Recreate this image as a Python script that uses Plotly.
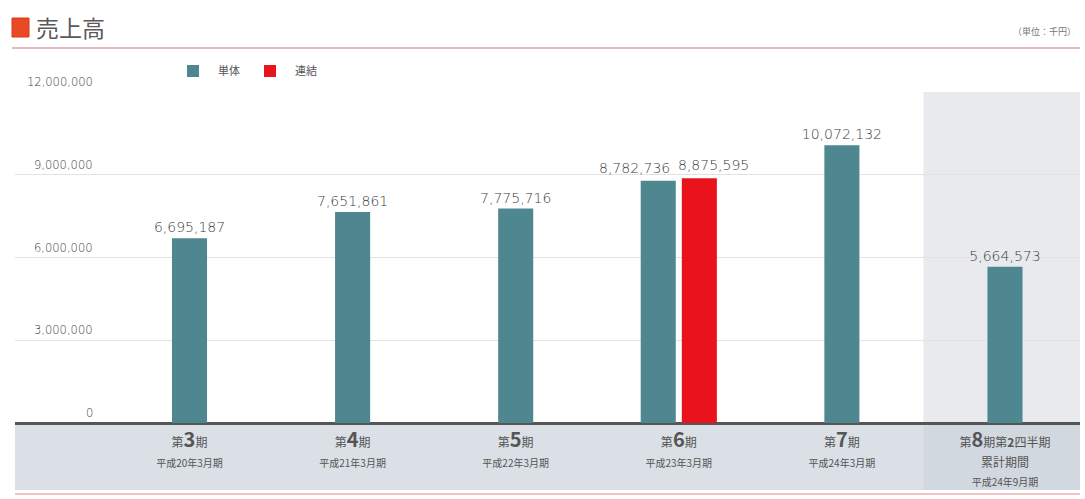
import plotly.graph_objects as go

# ---------------- data ----------------
categories = ["第3期", "第4期", "第5期", "第6期", "第7期", "第8期"]
period_nums = ["3", "4", "5", "6", "7", "8"]
period_suffix = ["期", "期", "期", "期", "期", "期第<b>2</b>四半期<br>累計期間"]
fiscal_labels = ["平成20年3月期", "平成21年3月期", "平成22年3月期",
                 "平成23年3月期", "平成24年3月期", "平成24年9月期"]
single_values = [6695187, 7651861, 7775716, 8782736, 10072132, 5664573]
consol_values = [None, None, None, 8875595, None, None]
y_ticks = [0, 3000000, 6000000, 9000000, 12000000]
title_text = "売上高"
unit_text = "（単位：千円）"
series_names = ["単体", "連結"]

# ---------------- styling ----------------
TEAL = "#4f8791"
RED = "#e8131b"
TXT = "#555555"
JP = "Noto Sans CJK JP"
NUM = "DejaVu Sans"

L, R, T, B = 15, 1080, 92, 423
W, H = 1085, 499
PW, PH = R - L, B - T


def px_x(p):
    return (p - L) / PW


def px_y(p):
    return (B - p) / PH


BW = 0.215
GAP = 0.037

single_offset, consol_offset, single_text = [], [], []
for s, v in zip(single_values, consol_values):
    if v is None:
        single_offset.append(-BW / 2)
        single_text.append(f"{s:,}")
    else:
        single_offset.append(-BW - GAP / 2)
        single_text.append("")
    consol_offset.append(GAP / 2)

tick_text = []
for n, s, f in zip(period_nums, period_suffix, fiscal_labels):
    tick_text.append(
        "<span style='font-size:12px'>第</span>"
        f"<span style='font-size:20px'><b>{n}</b></span>"
        f"<span style='font-size:12px'>{s}</span><br>"
        f"<span style='font-size:10px'>{f}</span>"
    )

valfont = dict(family=NUM, size=14, color="#3c3c3c", weight=300)

fig = go.Figure()
fig.add_trace(go.Bar(
    x=categories, y=single_values, name=series_names[0],
    marker=dict(color=TEAL, line=dict(width=0)),
    width=BW, offset=single_offset,
    text=single_text, texttemplate="%{text}", textposition="outside",
    textfont=valfont, constraintext="none", cliponaxis=False,
))
fig.add_trace(go.Bar(
    x=categories, y=consol_values, name=series_names[1],
    marker=dict(color=RED, line=dict(width=0)),
    width=BW, offset=consol_offset, textposition="none",
    cliponaxis=False,
))

n = len(categories)
x_lo = -1.07
x_hi = n - 1 + 0.46

shapes = [
    dict(type="rect", xref="paper", yref="paper", x0=0, x1=1,
         y0=px_y(425), y1=px_y(490), fillcolor="#dae0e6",
         line=dict(width=0), layer="below"),
    dict(type="rect", xref="x", yref="paper", x0=n - 1.5, x1=x_hi,
         y0=px_y(490), y1=1, fillcolor="rgba(200,206,214,0.42)",
         line=dict(width=0), layer="below"),
    dict(type="line", xref="paper", yref="paper", x0=0, x1=1,
         y0=px_y(494), y1=px_y(494), line=dict(color="#f2c4c8", width=2)),
    dict(type="line", xref="paper", yref="paper", x0=px_x(12), x1=1,
         y0=px_y(48), y1=px_y(48), line=dict(color="#e2a2aa", width=1.5)),
    dict(type="rect", xref="paper", yref="paper", x0=px_x(12), x1=px_x(29),
         y0=px_y(37), y1=px_y(18), fillcolor="#e84a25",
         line=dict(color="#d83a1a", width=1)),
]

annotations = [
    dict(text=title_text, xref="paper", yref="paper", x=px_x(34), y=px_y(27),
         xanchor="left", yanchor="middle", showarrow=False,
         font=dict(family=JP, size=23, color="#5a5a5a")),
    dict(text=unit_text, xref="paper", yref="paper", x=px_x(1078), y=px_y(31),
         xanchor="right", yanchor="middle", showarrow=False,
         font=dict(family=JP, size=9, color="#777777")),
]
for t in y_ticks:
    annotations.append(dict(
        text=f"{t:,}", xref="paper", yref="y", x=px_x(95), y=t,
        xanchor="right", yanchor="bottom", yshift=1, showarrow=False,
        font=dict(family=NUM, size=11.5, color="#3c3c3c", weight=300)))

# labels for the paired bars, pushed apart so they do not collide
for i, (s, v) in enumerate(zip(single_values, consol_values)):
    if v is None:
        continue
    annotations.append(dict(
        text=f"{s:,}", xref="x", yref="y", x=i - BW / 2 - GAP / 2, y=s,
        xanchor="center", yanchor="bottom", yshift=3, xshift=-24,
        showarrow=False, font=valfont))
    annotations.append(dict(
        text=f"{v:,}", xref="x", yref="y", x=i + BW / 2 + GAP / 2, y=v,
        xanchor="center", yanchor="bottom", yshift=3, xshift=14,
        showarrow=False, font=valfont))

fig.update_layout(
    width=W, height=H,
    margin=dict(l=L, r=W - R, t=T, b=H - B),
    paper_bgcolor="white", plot_bgcolor="rgba(0,0,0,0)",
    barmode="overlay",
    showlegend=True,
    legend=dict(orientation="h", x=px_x(168), y=px_y(71), xanchor="left",
                yanchor="middle", font=dict(family=JP, size=11, color=TXT),
                itemwidth=40, traceorder="normal", bgcolor="rgba(0,0,0,0)"),
    xaxis=dict(type="category", range=[x_lo, x_hi], showgrid=False,
               tickvals=categories, ticktext=tick_text, ticks="",
               ticklabelstandoff=8,
               tickfont=dict(family=JP, size=15, color=TXT),
               showline=False, zeroline=False, fixedrange=True),
    yaxis=dict(range=[0, 12000000], tickvals=y_ticks, showticklabels=False,
               showgrid=True, gridcolor="#e2e2e2", gridwidth=1,
               zeroline=True, zerolinecolor="#555555", zerolinewidth=3,
               showline=False, fixedrange=True),
    shapes=shapes,
    annotations=annotations,
    font=dict(family=JP, color=TXT),
)

fig.write_html("out.html")
